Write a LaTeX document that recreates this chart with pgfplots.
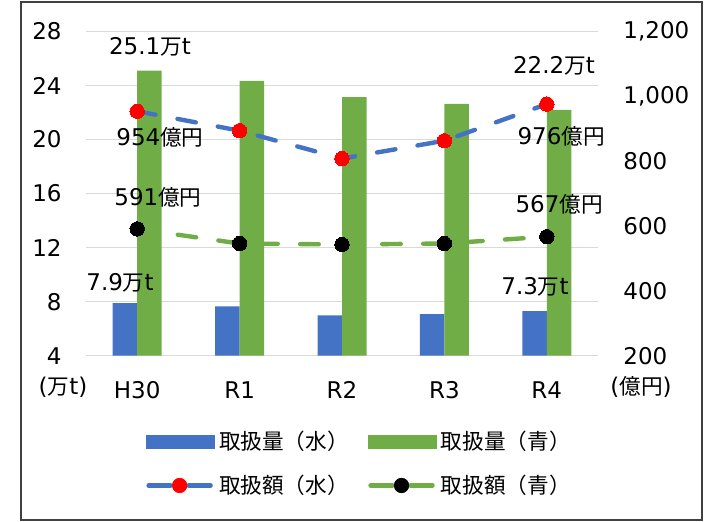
\documentclass[border=0pt]{standalone}
\usepackage{pgfplots}
\pgfplotsset{compat=1.18}
\usepackage{fontspec}
\setmainfont{DejaVu Sans}
\newfontfamily\cjk[Scale=0.94]{Noto Sans CJK JP}
\definecolor{cblue}{HTML}{4472C4}
\definecolor{cgreen}{HTML}{70AD47}
\definecolor{cgrid}{HTML}{D9D9D9}
\definecolor{cframe}{HTML}{404040}
\begin{document}
\fontsize{11.5pt}{13.8pt}\selectfont
\begin{tikzpicture}
\useasboundingbox (0,0) rectangle (361pt,261pt);
\draw[cframe, line width=1pt] (10.5pt,1pt) rectangle (351pt,260pt);
\begin{axis}[at={(43pt,83.15pt)}, anchor=south west, scale only axis,
  width=256pt, height=162.1pt,
  xmin=-0.5, xmax=4.5, ymin=4, ymax=28,
  ytick={4,8,...,28}, xtick={0,...,4}, xticklabels={H30,R1,R2,R3,R4},
  ymajorgrids, grid style={cgrid, line width=0.75pt},
  axis line style={draw=none}, major tick length=0,
  yticklabel style={xshift=-8.2pt}, xticklabel style={yshift=-9pt},
  /pgf/number format/assume math mode=true,
  tick label style={font=\fontsize{11.5pt}{13.8pt}\selectfont}]
\addplot[ybar, bar width=12.25pt, bar shift=-6.125pt, fill=cblue, draw=none]
  coordinates {(0,7.9) (1,7.65) (2,6.98) (3,7.08) (4,7.3)};
\addplot[ybar, bar width=12.25pt, bar shift=6.125pt, fill=cgreen, draw=none]
  coordinates {(0,25.1) (1,24.35) (2,23.15) (3,22.65) (4,22.2)};
\end{axis}
\begin{axis}[at={(43pt,83.15pt)}, anchor=south west, scale only axis,
  width=256pt, height=162.1pt,
  xmin=-0.5, xmax=4.5, ymin=200, ymax=1200,
  ytick={200,400,...,1200},
  hide x axis, axis y line*=right,
  axis line style={draw=none}, major tick length=0,
  yticklabel style={xshift=8.7pt},
  /pgf/number format/assume math mode=true,
  /pgf/number format/1000 sep={,},
  tick label style={font=\fontsize{11.5pt}{13.8pt}\selectfont},
  clip=false,
  legend style={at={(0.536,-0.205)}, anchor=north, draw=none, fill=none,
    font=\fontsize{11.5pt}{13.8pt}\selectfont\cjk, row sep=7pt,
    /tikz/every even column/.append style={column sep=7.7pt}},
  legend columns=2, legend cell align=left]
\addplot[forget plot, cblue, line width=2.2pt, dash pattern=on 9.3pt off 11.2pt, line cap=round,
  mark=*, mark size=3.6pt, mark options={solid, fill=red, draw=red, line width=0pt}]
  coordinates {(0,954) (1,894) (2,808) (3,863) (4,976)};
\addplot[forget plot, cgreen, line width=2.2pt, dash pattern=on 9.3pt off 11.2pt, line cap=round,
  mark=*, mark size=3.6pt, mark options={solid, fill=black, draw=black, line width=0pt}]
  coordinates {(0,591) (1,546) (2,543) (3,546) (4,567)};
\addlegendimage{legend image code/.code={\fill[cblue] (0pt,-3.25pt) rectangle (34pt,3.25pt);}}
\addlegendentry{取扱量（水）}
\addlegendimage{legend image code/.code={\fill[cgreen] (0pt,-3.25pt) rectangle (34pt,3.25pt);}}
\addlegendentry{取扱量（青）}
\addlegendimage{legend image code/.code={\draw[cblue, line width=2.2pt, line cap=round] (1pt,0pt) -- (12pt,0pt); \draw[cblue, line width=2.2pt, line cap=round] (21pt,0pt) -- (32pt,0pt); \fill[red] (16.5pt,0pt) circle (3.6pt);}}
\addlegendentry{取扱額（水）}
\addlegendimage{legend image code/.code={\draw[cgreen, line width=2.2pt, line cap=round] (1pt,0pt) -- (12pt,0pt); \draw[cgreen, line width=2.2pt, line cap=round] (21pt,0pt) -- (32pt,0pt); \fill[black] (16.5pt,0pt) circle (3.6pt);}}
\addlegendentry{取扱額（青）}
\node at (axis cs:0.125,1152) {25.1{\cjk 万}t};
\node at (axis cs:0.223,874.6) {954{\cjk 億円}};
\node at (axis cs:0.203,689.5) {591{\cjk 億円}};
\node at (axis cs:-0.168,424.2) {7.9{\cjk 万}t};
\node at (axis cs:4.07,1093.6) {22.2{\cjk 万}t};
\node at (axis cs:4.14,877.7) {976{\cjk 億円}};
\node at (axis cs:4.12,667.9) {567{\cjk 億円}};
\node at (axis cs:3.885,411.9) {7.3{\cjk 万}t};
\node at (axis cs:-0.725,103.5) {({\cjk 万}t)};
\node at (axis cs:4.92,103.5) {({\cjk 億円})};
\end{axis}
\end{tikzpicture}
\end{document}
